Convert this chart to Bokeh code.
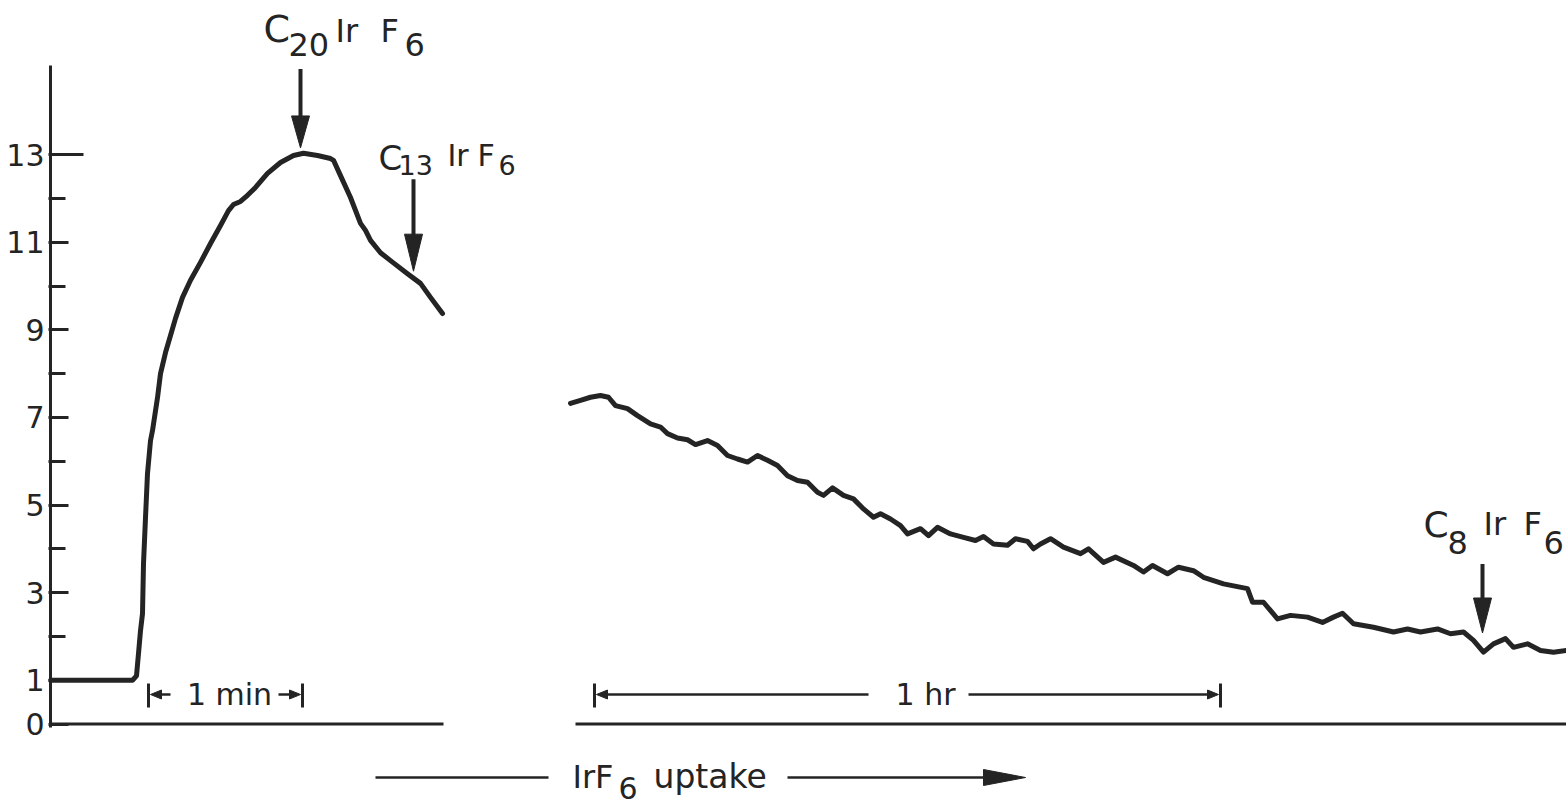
import numpy as np
from bokeh.plotting import figure
from bokeh.models import FixedTicker
from bokeh.core.properties import value
from bokeh.embed import file_html
from bokeh.resources import INLINE

# ---------------- data ----------------
# time axis in arbitrary chart units (broken axis: fast phase | slow phase)
fast_t = [0, 8.2, 8.6, 8.8, 9.0, 9.2, 9.3, 9.5, 9.7, 10.0, 10.2, 10.7, 11.0, 11.5,
          12.0, 12.5, 13.2, 14.0, 15.0, 16.0, 17.0, 17.8, 18.3, 19.0, 19.7, 20.5,
          21.7, 23.0, 24.3, 25.3, 26.7, 28.0, 28.3, 29.0, 30.0, 31.0, 31.5, 32.0,
          33.0, 34.0, 35.7, 37.0, 38.0, 39.2]
fast_v = [1.00, 1.00, 1.10, 1.61, 2.13, 2.52, 3.66, 4.71, 5.72, 6.47, 6.70, 7.45,
          8.00, 8.48, 8.87, 9.26, 9.74, 10.13, 10.54, 10.97, 11.38, 11.72, 11.86,
          11.93, 12.07, 12.25, 12.57, 12.82, 12.98, 13.03, 12.98, 12.91, 12.87,
          12.52, 12.02, 11.43, 11.27, 11.04, 10.76, 10.58, 10.28, 10.06, 9.74, 9.37]

slow_t = [52.0, 53.0, 54.0, 55.0, 55.8, 56.5, 57.7, 58.7, 60.0, 61.0, 61.7, 62.7,
          63.7, 64.5, 65.7, 66.7, 67.7, 68.7, 69.7, 70.7, 71.7, 72.7, 73.7, 74.7,
          75.7, 76.7, 77.3, 78.2, 79.3, 80.3, 81.3, 82.3, 83.0, 84.0, 85.0, 85.7,
          87.0, 87.8, 88.7, 90.0, 91.3, 92.5, 93.3, 94.3, 95.7, 96.5, 97.7, 98.3,
          99.0, 100.0, 101.3, 103.0, 103.8, 105.3, 106.5, 108.3, 109.3, 110.2,
          111.7, 112.8, 114.3, 115.3, 117.3, 119.7, 120.2, 121.3, 122.7, 124.0,
          125.7, 127.2, 128.3, 129.2, 130.3, 132.3, 134.3, 135.7, 137.0, 138.7,
          140.0, 141.3, 142.3, 143.3, 144.3, 145.5, 146.3, 147.7, 149.0, 150.3, 151.6]
slow_v = [7.32, 7.39, 7.46, 7.50, 7.46, 7.27, 7.20, 7.04, 6.85, 6.78, 6.63, 6.53,
          6.49, 6.38, 6.47, 6.36, 6.13, 6.05, 5.98, 6.13, 6.02, 5.90, 5.67, 5.56,
          5.52, 5.29, 5.22, 5.39, 5.22, 5.14, 4.91, 4.72, 4.80, 4.68, 4.53, 4.34,
          4.46, 4.30, 4.49, 4.34, 4.26, 4.19, 4.28, 4.11, 4.08, 4.23, 4.17, 4.00,
          4.11, 4.23, 4.04, 3.89, 4.00, 3.69, 3.81, 3.62, 3.47, 3.62,
          3.43, 3.58, 3.50, 3.35, 3.20, 3.09, 2.78, 2.78, 2.40, 2.48,
          2.44, 2.32, 2.44, 2.53, 2.29, 2.21, 2.10, 2.17, 2.10, 2.17,
          2.06, 2.10, 1.91, 1.64, 1.83, 1.95, 1.75, 1.83, 1.68, 1.64, 1.68]

y_ticks = [0, 1, 3, 5, 7, 9, 11, 13]
y_minor = [2, 4, 6, 8, 10, 12]

# annotated species, placed at these times on the curve
marker_t = [25.0, 36.3, 143.2]
marker_sub = ["20", "13", "8"]

# ---------------- layout / style ----------------
INK = "#242424"
FONT = "DejaVu Sans"
W, H = 1566, 811
BORDER_L = 48
X_START, X_END = -0.2, 151.6
PX0, PXT = 50.0, 10.0     # layout helpers: reference pixel <-> chart units
PY0, PYV = 723.5, 43.8
Y_END = PY0 / PYV
Y_START = Y_END - H / PYV
TEXT_SHIFT = 0.37         # empirical baseline correction (fraction of font size)


def tx(px):
    return (px - PX0) / PXT


def vy(py):
    return (PY0 - py) / PYV


def px_of(t):
    return PX0 + t * PXT


def py_of(v):
    return PY0 - v * PYV


p = figure(width=W, height=H, output_backend="svg", toolbar_location=None,
           x_range=(X_START, X_END), y_range=(Y_START, Y_END),
           x_axis_location=None, min_border_left=BORDER_L, min_border_right=0,
           min_border_top=0, min_border_bottom=0, outline_line_color=None,
           background_fill_color="white", border_fill_color="white")
p.ygrid.grid_line_color = None
p.xgrid.grid_line_color = None

ax = p.yaxis[0]
ax.ticker = FixedTicker(ticks=y_ticks, minor_ticks=y_minor)
ax.axis_line_color = None
ax.major_tick_in = 20
ax.major_tick_out = 0
ax.minor_tick_in = 17
ax.minor_tick_out = 0
ax.major_tick_line_width = 3
ax.minor_tick_line_width = 3
ax.major_tick_line_color = INK
ax.minor_tick_line_color = INK
ax.major_label_text_font = FONT
ax.major_label_text_font_size = "30px"
ax.major_label_text_color = INK
ax.major_label_standoff = 4

# axis line and broken baseline
p.segment(x0=[0], y0=[vy(727)], x1=[0], y1=[vy(65)], line_width=3, line_color=INK)
p.segment(x0=[0], y0=[13], x1=[tx(83)], y1=[13], line_width=3, line_color=INK)
p.segment(x0=[0, 52.5], y0=[0, 0], x1=[39.3, X_END], y1=[0, 0],
          line_width=3, line_color=INK)

# curves
p.line(fast_t, fast_v, line_width=5, line_color=INK, line_join="round", line_cap="round")
p.line(slow_t, slow_v, line_width=5, line_color=INK, line_join="round", line_cap="round")


def txt(s, px, py, size, align="left"):
    p.text(x=[tx(px)], y=[vy(py - TEXT_SHIFT * size)], text=[s], text_font=value(FONT),
           text_font_size=value(f"{size}px"), text_color=INK,
           text_align=align, text_baseline="alphabetic")


def down_arrow(px, py_tail, py_tip, head_len, head_w, lw=4):
    p.segment(x0=[tx(px)], y0=[vy(py_tail)], x1=[tx(px)], y1=[vy(py_tip - head_len + 3)],
              line_width=lw, line_color=INK)
    p.patch(x=[tx(px - head_w / 2), tx(px + head_w / 2), tx(px)],
            y=[vy(py_tip - head_len), vy(py_tip - head_len), vy(py_tip)],
            fill_color=INK, line_color=INK, line_width=1)


def h_arrow(px_tail, px_tip, py, head_len, head_w, lw=2.5):
    d = 1 if px_tip > px_tail else -1
    p.segment(x0=[tx(px_tail)], y0=[vy(py)], x1=[tx(px_tip - d * (head_len - 2))], y1=[vy(py)],
              line_width=lw, line_color=INK)
    p.patch(x=[tx(px_tip - d * head_len), tx(px_tip - d * head_len), tx(px_tip)],
            y=[vy(py - head_w / 2), vy(py + head_w / 2), vy(py)],
            fill_color=INK, line_color=INK, line_width=1)


# marker arrows + formulas
arrow_len = [79, 92, 69]
arrow_gap = [6, 7, 18]
head_len = [32, 37, 35]
label_layout = [
    dict(cs=38, cb=-26, sb=-13, ss=32, ib=-26, isz=32, ox=(-37, -12, 35, 80, 104)),
    dict(cs=34, cb=-9, sb=-4, ss=27, ib=-13, isz=30, ox=(-35, -15, 34, 64, 85)),
    dict(cs=36, cb=-26, sb=-10, ss=32, ib=-28, isz=32, ox=(-59, -35, 1, 41, 61)),
]
all_t = np.array(fast_t + slow_t)
all_v = np.array(fast_v + slow_v)
for i, t in enumerate(marker_t):
    v = float(np.interp(t, all_t, all_v))
    ax_px = px_of(t)
    tip = py_of(v) - arrow_gap[i]
    tail = tip - arrow_len[i]
    down_arrow(ax_px, tail, tip, head_len[i], 18)
    L = label_layout[i]
    o = L["ox"]
    txt("C", ax_px + o[0], tail + L["cb"], L["cs"])
    txt(marker_sub[i], ax_px + o[1], tail + L["sb"], L["ss"])
    txt("Ir", ax_px + o[2], tail + L["ib"], L["isz"])
    txt("F", ax_px + o[3], tail + L["ib"], L["isz"])
    txt("6", ax_px + o[4], tail + L["sb"], L["ss"])

# time scale bars
for (b0, b1, lab_px, gap0, gap1, tick_lab) in [(148, 302, 229, 170, 278, "1 min"),
                                                (594, 1220, 925, 868, 968, "1 hr")]:
    p.segment(x0=[tx(b0), tx(b1)], y0=[vy(683), vy(683)], x1=[tx(b0), tx(b1)],
              y1=[vy(707), vy(707)], line_width=3, line_color=INK)
    h_arrow(gap0, b0 + 2, 694, 11, 9)
    h_arrow(gap1, b1 - 2, 694, 11, 9)
    txt(tick_lab, lab_px, 705, 30, align="center")

# IrF6 uptake direction arrow
p.segment(x0=[tx(375)], y0=[vy(777)], x1=[tx(548)], y1=[vy(777)], line_width=2.5, line_color=INK)
h_arrow(787, 1025, 777, 42, 16, lw=2.5)
txt("IrF", 572, 788, 32)
txt("6", 618, 799, 30)
txt("uptake", 653, 788, 33)

open("out.html", "w").write(file_html(p, INLINE))
